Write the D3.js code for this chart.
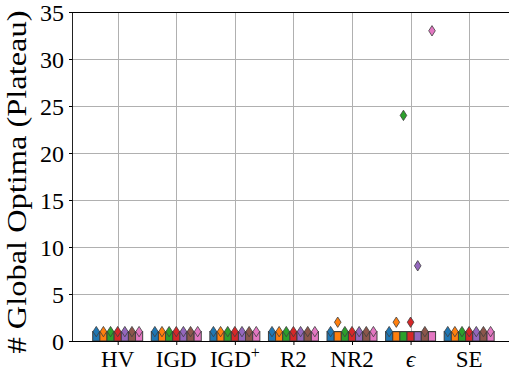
<!DOCTYPE html>
<html>
<head>
<meta charset="utf-8">
<script src="https://cdn.jsdelivr.net/npm/d3@7"></script>
<style>
  html, body { margin: 0; padding: 0; background: #fff; }
  svg { display: block; }
</style>
</head>
<body>
<svg id="chart" width="509" height="373"></svg>
<script>
// Indicators on the x axis
const categories = ["HV", "IGD", "IGD+", "R2", "NR2", "eps", "SE"];
// Seven runs / configurations shown as dodged boxes within each indicator
const hues = ["c1", "c2", "c3", "c4", "c5", "c6", "c7"];
const hueColors = ["#1f77b4", "#ff7f0e", "#2ca02c", "#d62728", "#9467bd", "#8c564b", "#e377c2"];

// Box extents (lower / upper quartile) per indicator, identical for every hue
const boxLow = [0, 0, 0, 0, 0, 0, 0];
const boxHigh = [1, 1, 1, 1, 1, 1, 1];
const boxMedian = [1, 1, 1, 1, 1, 1, 1];

// Outlying values (one per hue, null where none) for each indicator
const fliersHV   = [1, 1, 1, 1, 1, 1, 1];
const fliersIGD  = [1, 1, 1, 1, 1, 1, 1];
const fliersIGDp = [1, 1, 1, 1, 1, 1, 1];
const fliersR2   = [1, 1, 1, 1, 1, 1, 1];
const fliersNR2  = [1, 2, 1, 1, 1, 1, 1];
const fliersEps  = [1, 2, 24, 2, 8, 1, 33];
const fliersSE   = [1, 1, 1, 1, 1, 1, 1];
const fliers = [fliersHV, fliersIGD, fliersIGDp, fliersR2, fliersNR2, fliersEps, fliersSE];

const yTicks = [0, 5, 10, 15, 20, 25, 30, 35];

(function draw() {
  const svg = d3.select("#chart");
  const pLeft = 72, pRight = 509, pTop = 12, pBottom = 341;

  const x = d3.scaleLinear().domain([-0.78, 6.68]).range([pLeft, pRight]);
  const y = d3.scaleLinear().domain([0, 35]).range([pBottom, pTop]);
  const groupWidth = 0.853;
  const hueOffset = d3.scaleBand().domain(hues).range([-groupWidth / 2, groupWidth / 2]).padding(0);

  const serif = "'Liberation Serif', 'DejaVu Serif', serif";

  // Grid
  const grid = svg.append("g").attr("stroke", "#b0b0b0").attr("stroke-width", 1);
  grid.selectAll("line.h").data(yTicks).join("line")
    .attr("x1", pLeft).attr("x2", pRight)
    .attr("y1", d => Math.round(y(d)) + 0.5).attr("y2", d => Math.round(y(d)) + 0.5);
  grid.selectAll("line.v").data(categories.map((_, i) => i)).join("line")
    .attr("x1", d => Math.round(x(d)) + 0.5).attr("x2", d => Math.round(x(d)) + 0.5)
    .attr("y1", pTop).attr("y2", pBottom);

  // Boxes
  const edge = "#3d3d3d";
  const boxes = svg.append("g");
  categories.forEach((c, ci) => {
    hues.forEach((h, hi) => {
      const x0 = x(ci + hueOffset(h));
      const x1 = x(ci + hueOffset(h) + hueOffset.bandwidth());
      boxes.append("rect")
        .attr("x", x0).attr("width", x1 - x0)
        .attr("y", y(boxHigh[ci])).attr("height", y(boxLow[ci]) - y(boxHigh[ci]))
        .attr("fill", hueColors[hi]).attr("stroke", edge).attr("stroke-width", 1);
      boxes.append("line")
        .attr("x1", x0).attr("x2", x1)
        .attr("y1", y(boxMedian[ci])).attr("y2", y(boxMedian[ci]))
        .attr("stroke", edge).attr("stroke-width", 1);
    });
  });

  // Outliers as thin diamonds
  const diamond = "M0,-5.2L3.3,0L0,5.2L-3.3,0Z";
  const pts = svg.append("g");
  categories.forEach((c, ci) => {
    hues.forEach((h, hi) => {
      const v = fliers[ci][hi];
      if (v == null) return;
      const cx = x(ci + hueOffset(h) + hueOffset.bandwidth() / 2);
      pts.append("path")
        .attr("d", diamond)
        .attr("transform", `translate(${cx},${y(v)})`)
        .attr("fill", hueColors[hi]).attr("stroke", edge).attr("stroke-width", 0.8);
    });
  });

  // Spines
  svg.append("line").attr("x1", pLeft + 0.5).attr("x2", pLeft + 0.5).attr("y1", pTop).attr("y2", pBottom + 0.5)
    .attr("stroke", "#222").attr("stroke-width", 1);
  svg.append("line").attr("x1", pLeft).attr("x2", pRight).attr("y1", pBottom + 0.5).attr("y2", pBottom + 0.5)
    .attr("stroke", "#000").attr("stroke-width", 1);
  svg.append("line").attr("x1", pLeft).attr("x2", pRight).attr("y1", pTop + 0.5).attr("y2", pTop + 0.5)
    .attr("stroke", "#000").attr("stroke-width", 1);

  // Y axis ticks and labels
  const yAxis = d3.axisLeft(y).tickValues(yTicks).tickSize(3.5).tickPadding(5).tickFormat(d3.format("d"));
  const gy = svg.append("g").attr("transform", `translate(${pLeft + 0.5},0)`).call(yAxis);
  gy.select(".domain").remove();
  gy.selectAll("text").attr("font-family", serif).attr("font-size", 24).attr("fill", "#000").attr("dy", "0.34em");

  // X axis ticks
  const xAxis = d3.axisBottom(x).tickValues(categories.map((_, i) => i)).tickSize(3.5).tickFormat(() => "");
  const gx = svg.append("g").attr("transform", `translate(0,${pBottom + 0.5})`).call(xAxis);
  gx.select(".domain").remove();

  // X tick labels (with superscript and Greek symbol where needed)
  const xl = svg.append("g").attr("font-family", serif).attr("font-size", 23).attr("text-anchor", "middle").attr("fill", "#000");
  categories.forEach((c, ci) => {
    const t = xl.append("text").attr("x", x(ci)).attr("y", 367);
    if (c === "IGD+") {
      t.append("tspan").text("IGD");
      t.append("tspan").attr("dy", -9).attr("font-size", 16).text("+");
    } else if (c === "eps") {
      t.append("tspan").attr("font-style", "italic").text("ϵ");
    } else {
      t.text(c);
    }
  });

  // Y axis title, widened to span the full height of the axis
  const title = svg.append("text")
    .attr("text-anchor", "middle")
    .attr("font-family", serif).attr("font-size", 27).attr("fill", "#000")
    .text("# Global Optima (Plateau)");
  const span = 343;
  const natural = title.node().getComputedTextLength();
  const sx = natural > 0 ? span / natural : 1;
  title.attr("transform", `translate(26,182) rotate(-90) scale(${sx.toFixed(3)},1)`);
})();
</script>
</body>
</html>
